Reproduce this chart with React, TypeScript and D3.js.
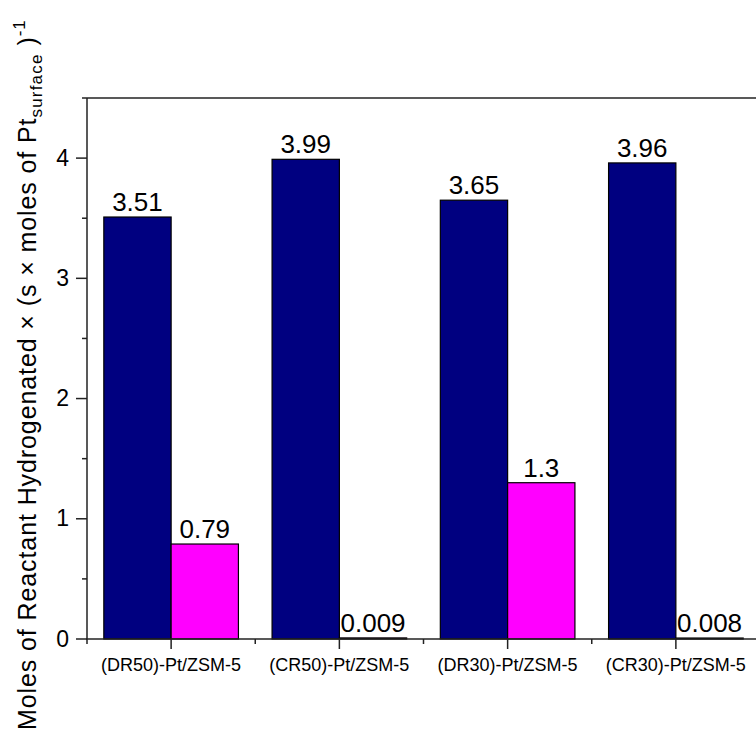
import React from "react";
import * as d3 from "d3";

// Catalysts and hydrogenation turnover values for the two reactant series
const categories = [
  "(DR50)-Pt/ZSM-5",
  "(CR50)-Pt/ZSM-5",
  "(DR30)-Pt/ZSM-5",
  "(CR30)-Pt/ZSM-5",
];
const seriesKeys = ["first", "second"];
const firstValues = [3.51, 3.99, 3.65, 3.96];
const secondValues = [0.79, 0.009, 1.3, 0.008];
const firstLabels = ["3.51", "3.99", "3.65", "3.96"];
const secondLabels = ["0.79", "0.009", "1.3", "0.008"];
const yTicks = [0, 1, 2, 3, 4];
const yMinorTicks = [0.5, 1.5, 2.5, 3.5, 4.5];

const W = 756;
const H = 733;
const left = 87;
const right = 760;
const top = 98;
const bottom = 639;
const font = "'Liberation Sans', Arial, sans-serif";
const colors = ["#000080", "#FF00FF"];
const axisColor = "#222";

export default function App() {
  const x = d3
    .scaleBand<string>()
    .domain(categories)
    .range([left, right])
    .paddingInner(0.2)
    .paddingOuter(0.1);
  const sub = d3
    .scaleBand<string>()
    .domain(seriesKeys)
    .range([0, x.bandwidth()]);
  const y = d3.scaleLinear().domain([0, 4.5]).range([bottom, top]);
  const step = x.step();

  const series = [
    { key: "first", values: firstValues, labels: firstLabels },
    { key: "second", values: secondValues, labels: secondLabels },
  ];

  return (
    <svg
      width={W}
      height={H}
      style={{ position: "absolute", left: 0, top: 0, background: "#fff" }}
      fontFamily={font}
    >
      {/* bars */}
      {series.map((s, si) =>
        categories.map((c, i) => {
          const bx = (x(c) as number) + (sub(s.key) as number);
          const by = y(s.values[i]);
          return (
            <g key={`${s.key}-${c}`}>
              <rect
                x={bx}
                y={by}
                width={sub.bandwidth()}
                height={bottom - by}
                fill={colors[si]}
                stroke="#000"
                strokeWidth={1.2}
              />
              <text
                x={bx + sub.bandwidth() / 2}
                y={by - 6}
                textAnchor="middle"
                fontSize={26}
                fill="#000"
              >
                {s.labels[i]}
              </text>
            </g>
          );
        })
      )}

      {/* frame */}
      <line x1={left} x2={right} y1={top} y2={top} stroke={axisColor} strokeWidth={1.5} />
      <line x1={right} x2={right} y1={top} y2={bottom} stroke={axisColor} strokeWidth={1.5} />
      <line x1={left} x2={left} y1={top} y2={bottom} stroke={axisColor} strokeWidth={1.5} />
      <line x1={left - 1} x2={right} y1={bottom} y2={bottom} stroke={axisColor} strokeWidth={1.5} />

      {/* y ticks */}
      {yTicks.map((t) => (
        <g key={`yt${t}`}>
          <line x1={left - 11} x2={left} y1={y(t)} y2={y(t)} stroke={axisColor} strokeWidth={1.5} />
          <text
            x={left - 18}
            y={y(t)}
            dy="0.33em"
            textAnchor="end"
            fontSize={23}
            fill="#000"
          >
            {t}
          </text>
        </g>
      ))}
      {yMinorTicks.map((t) => (
        <line
          key={`ym${t}`}
          x1={left - 5}
          x2={left}
          y1={y(t)}
          y2={y(t)}
          stroke={axisColor}
          strokeWidth={1.5}
        />
      ))}

      {/* x ticks */}
      {categories.map((c) => {
        const cx = (x(c) as number) + x.bandwidth() / 2;
        return (
          <g key={`xt${c}`}>
            <line x1={cx} x2={cx} y1={bottom} y2={bottom + 10} stroke={axisColor} strokeWidth={1.5} />
            <text
              x={cx}
              y={671}
              textAnchor="middle"
              fontSize={18}
              fill="#000"
            >
              {c}
            </text>
          </g>
        );
      })}
      {d3.range(categories.length + 1).map((k) => (
        <line
          key={`xm${k}`}
          x1={left + k * step}
          x2={left + k * step}
          y1={bottom}
          y2={bottom + 5}
          stroke={axisColor}
          strokeWidth={1.5}
        />
      ))}

      {/* y axis title */}
      <text
        transform={`translate(36, 730) rotate(-90)`}
        fontSize={25}
        letterSpacing={0.9}
        fill="#000"
      >
        <tspan>Moles of Reactant Hydrogenated × (s × moles of Pt</tspan>
        <tspan fontSize={17} dy={6} letterSpacing={1.2}>surface</tspan>
        <tspan dy={-6}> )</tspan>
        <tspan fontSize={17} dy={-11}>-1</tspan>
      </text>
    </svg>
  );
}
